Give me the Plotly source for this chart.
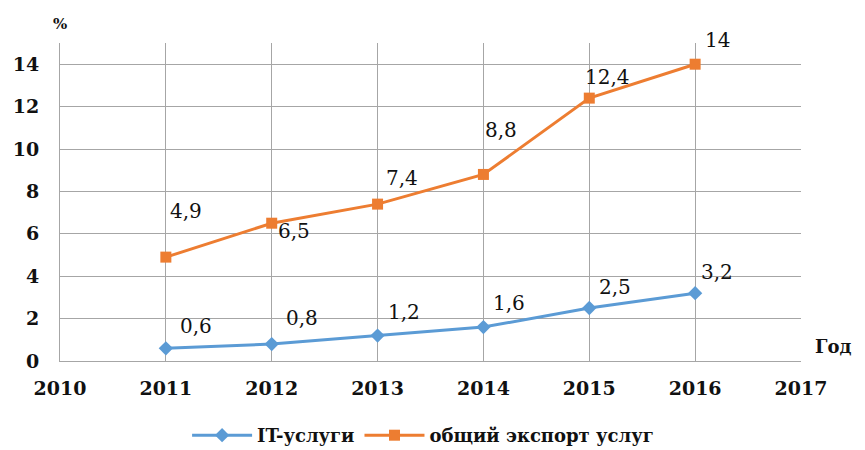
import plotly.graph_objects as go

years = [2011, 2012, 2013, 2014, 2015, 2016]
it_services = [0.6, 0.8, 1.2, 1.6, 2.5, 3.2]
total_export = [4.9, 6.5, 7.4, 8.8, 12.4, 14]
it_labels = ["0,6", "0,8", "1,2", "1,6", "2,5", "3,2"]
total_labels = ["4,9", "6,5", "7,4", "8,8", "12,4", "14"]
x_ticks = [2010, 2011, 2012, 2013, 2014, 2015, 2016, 2017]
y_ticks = [0, 2, 4, 6, 8, 10, 12, 14]

blue = "#5B9BD5"
orange = "#ED7D31"
grid = "#A6A6A6"
serif = "DejaVu Serif"

fig = go.Figure()
fig.add_trace(go.Scatter(
    x=years, y=it_services, name="IT-услуги",
    mode="lines+markers",
    line=dict(color=blue, width=3),
    marker=dict(symbol="diamond", size=11, color=blue)))
fig.add_trace(go.Scatter(
    x=years, y=total_export, name="общий экспорт услуг",
    mode="lines+markers",
    line=dict(color=orange, width=3),
    marker=dict(symbol="square", size=11, color=orange)))

# label offsets (px) relative to each point
it_shift = [(30, 22), (30, 26), (26, 24), (26, 24), (26, 21), (22, 21)]
tot_shift = [(20, 46), (22, -8), (24, 26), (18, 44), (18, 21), (22, 24)]

for xs, ys, labels, shifts in [(years, it_services, it_labels, it_shift),
                               (years, total_export, total_labels, tot_shift)]:
    for x, y, t, (dx, dy) in zip(xs, ys, labels, shifts):
        fig.add_annotation(
            x=x, y=y, text=t, showarrow=False,
            xshift=dx, yshift=dy,
            font=dict(family=serif, size=20, color="#111111"))

fig.add_annotation(
    x=0, y=1, xref="paper", yref="paper", text="%",
    showarrow=False, xanchor="center", yanchor="bottom", yshift=8,
    font=dict(family=serif, size=15, color="#111111", weight="bold"))
fig.add_annotation(
    x=1, y=0, xref="paper", yref="paper", text="Год",
    showarrow=False, xanchor="left", yanchor="bottom", xshift=12, yshift=2,
    font=dict(family=serif, size=18, color="#111111", weight="bold"))

fig.update_xaxes(
    range=[2010, 2017], tickvals=x_ticks,
    showgrid=True, gridcolor=grid, gridwidth=1,
    showline=True, linecolor=grid, linewidth=1,
    zeroline=False, automargin=False,
    tickfont=dict(family=serif, size=19, color="#111111", weight="bold"),
    ticklabelstandoff=10)
fig.update_yaxes(
    range=[0, 15], tickvals=y_ticks,
    showgrid=True, gridcolor=grid, gridwidth=1,
    showline=True, linecolor=grid, linewidth=1,
    zeroline=False, automargin=False,
    tickfont=dict(family=serif, size=19, color="#111111", weight="bold"),
    ticklabelstandoff=16)

# page body adds an 8px offset, so margins are shifted to compensate
fig.update_layout(
    width=865, height=450,
    margin=dict(l=52, r=72, t=35, b=97),
    font=dict(family=serif, color="#111111"),
    paper_bgcolor="white", plot_bgcolor="white",
    showlegend=True,
    legend=dict(
        orientation="h", x=0.49, xanchor="center",
        yref="container", y=0.05, yanchor="middle",
        font=dict(family=serif, size=18, color="#111111", weight="bold"),
        itemwidth=60),
)

fig.write_html("out.html")
